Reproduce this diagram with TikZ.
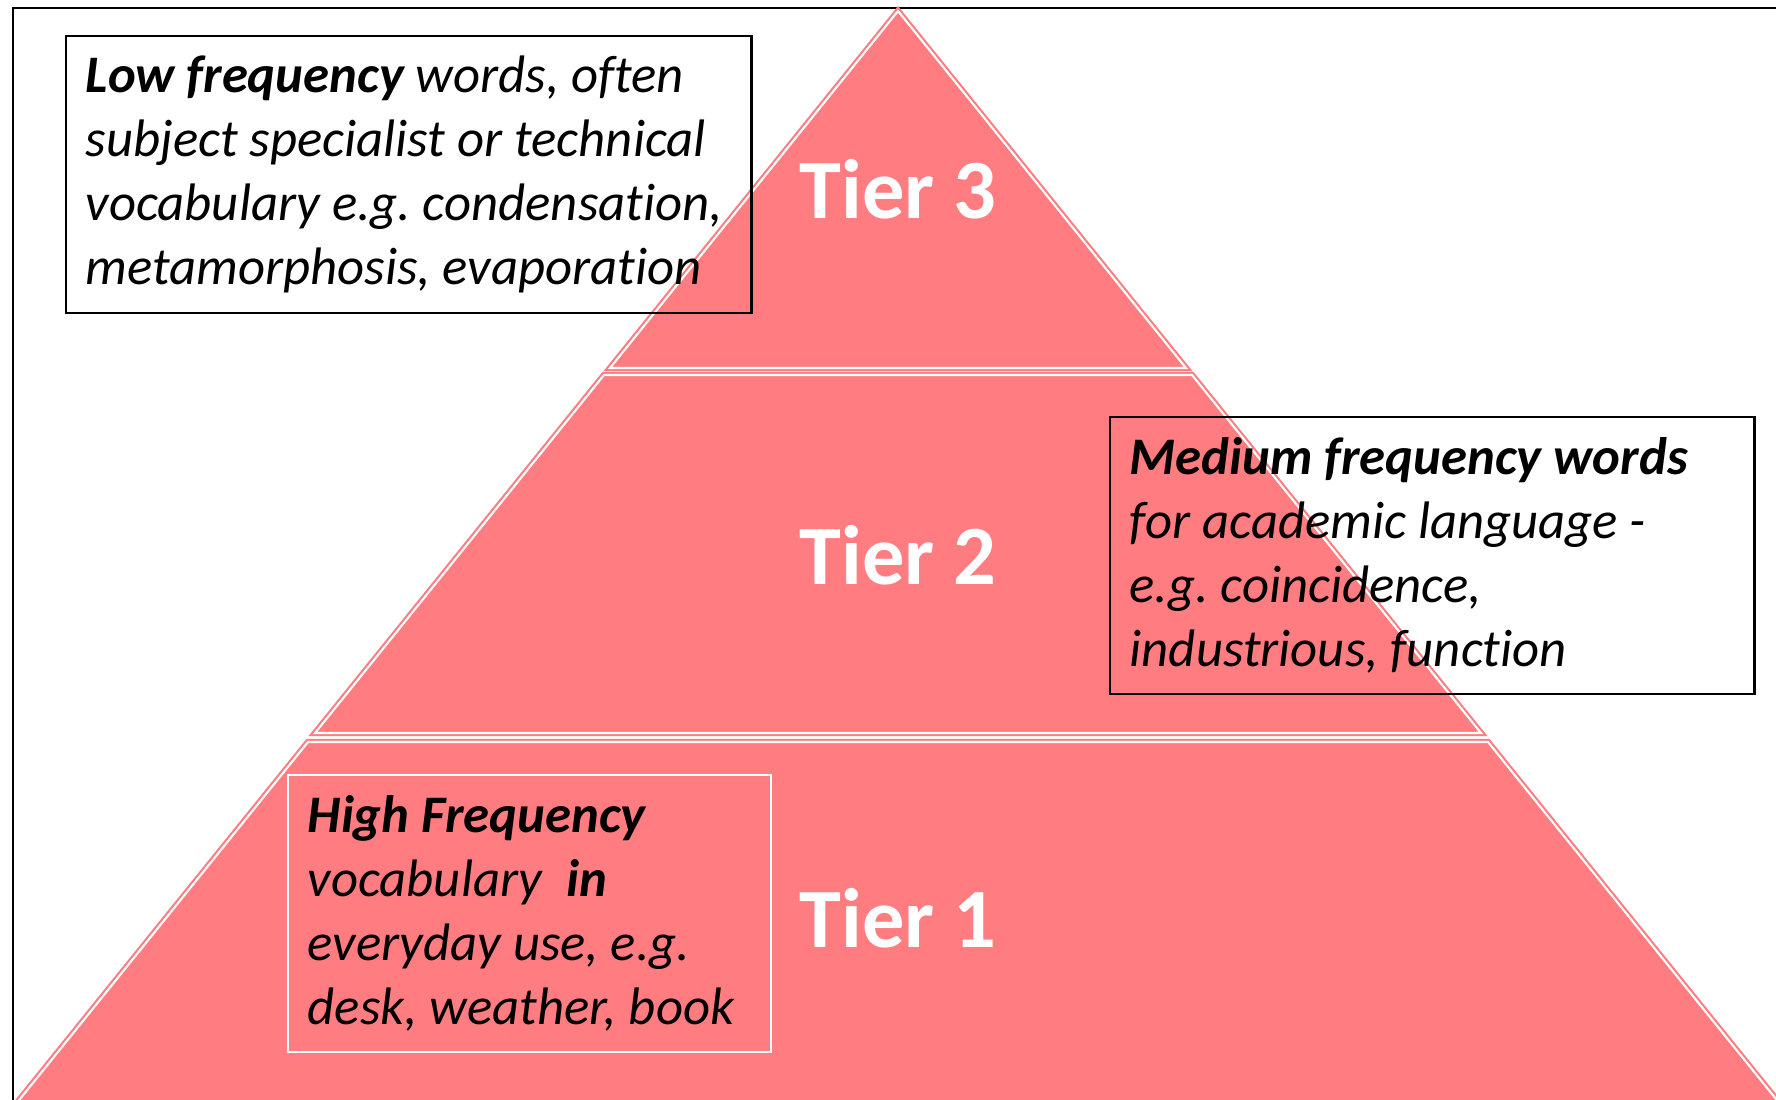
\documentclass[tikz,border=0pt]{standalone}
\usepackage{fontspec}
\setmainfont{Carlito}[Ligatures=NoCommon]
\definecolor{tierpink}{HTML}{FF7C80}
\frenchspacing
\begin{document}
\begin{tikzpicture}[x=0.01cm, y=-0.01cm,
  tier/.style={fill=tierpink, draw=tierpink, double=white, double distance=0.6pt, line width=0.6pt, line join=miter},
  tierlabel/.style={text=white, inner sep=0pt, font=\fontsize{24}{28}\selectfont\bfseries},
  notebox/.style={anchor=north west, inner sep=0pt, line width=0.6pt, minimum height=2.77cm},
  notetext/.style={anchor=west, inner sep=0pt, align=left, font=\fontsize{15}{18.2}\selectfont\itshape}]
  \useasboundingbox (0,0) rectangle (1776,1099);
  \clip (0,0) rectangle (1776,1099);

  % outer frame (runs past the right and bottom edges)
  \draw[line width=0.6pt] (13,1120) -- (13,8) -- (1800,8);

  % pyramid tiers
  \path[tier] (898,11) -- (1186,368) -- (610,368) -- cycle;
  \path[tier] (604,375) -- (1192,375) -- (1481,733) -- (315,733) -- cycle;
  \path[tier] (308,742) -- (1488,742) -- (1797,1125) -- (-1,1125) -- cycle;

  \node[tierlabel] (t3) at (898,189) {Tier 3};
  \node[tierlabel] (t2) at (898,555) {Tier 2};
  \node[tierlabel] (t1) at (898,918) {Tier 1};

  % description boxes
  \node[notebox, draw=black, minimum width=6.85cm] (lowbox) at (65,35) {};
  \node[notetext] (low) at ([xshift=0.2cm]lowbox.west)
    {\textbf{Low frequency} words, often\\ subject specialist or technical\\ vocabulary e.g. condensation,\\ metamorphosis, evaporation};

  \node[notebox, draw=black, minimum width=6.44cm] (mediumbox) at (1109,416) {};
  \node[notetext] (medium) at ([xshift=0.2cm]mediumbox.west)
    {\textbf{Medium frequency words}\\ for academic language -\\ e.g. coincidence,\\ industrious, function};

  \node[notebox, draw=white, minimum width=4.83cm] (highbox) at (287,774) {};
  \node[notetext] (high) at ([xshift=0.2cm]highbox.west)
    {\textbf{High Frequency}\\ vocabulary\ \ \textbf{in}\\ everyday use, e.g.\\ desk, weather, book};
\end{tikzpicture}
\end{document}
